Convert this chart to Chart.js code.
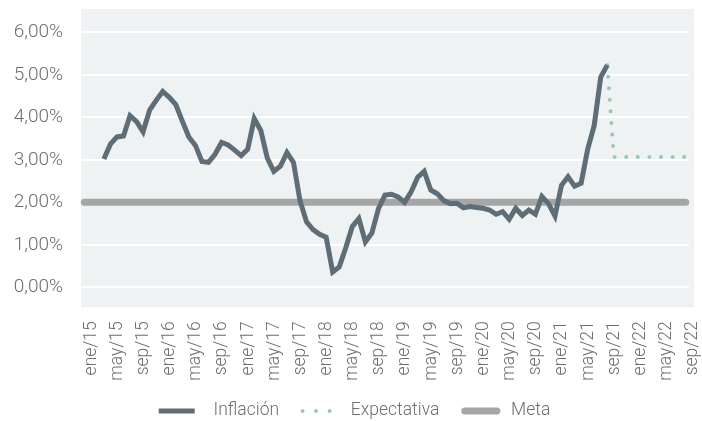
<!DOCTYPE html>
<html>
<head>
<meta charset="utf-8">
<script src="https://cdn.jsdelivr.net/npm/chart.js@4.4.1/dist/chart.umd.min.js"></script>
<style>
html,body{margin:0;padding:0;background:#ffffff;}
#wrap{width:702px;height:421px;position:relative;}
</style>
</head>
<body>
<div id="wrap"><canvas id="c" width="702" height="421"></canvas></div>
<script>
const categories = [
  'ene/15','feb/15','mar/15','abr/15','may/15','jun/15','jul/15','ago/15','sep/15','oct/15','nov/15','dic/15',
  'ene/16','feb/16','mar/16','abr/16','may/16','jun/16','jul/16','ago/16','sep/16','oct/16','nov/16','dic/16',
  'ene/17','feb/17','mar/17','abr/17','may/17','jun/17','jul/17','ago/17','sep/17','oct/17','nov/17','dic/17',
  'ene/18','feb/18','mar/18','abr/18','may/18','jun/18','jul/18','ago/18','sep/18','oct/18','nov/18','dic/18',
  'ene/19','feb/19','mar/19','abr/19','may/19','jun/19','jul/19','ago/19','sep/19','oct/19','nov/19','dic/19',
  'ene/20','feb/20','mar/20','abr/20','may/20','jun/20','jul/20','ago/20','sep/20','oct/20','nov/20','dic/20',
  'ene/21','feb/21','mar/21','abr/21','may/21','jun/21','jul/21','ago/21','sep/21','oct/21','nov/21','dic/21',
  'ene/22','feb/22','mar/22','abr/22','may/22','jun/22','jul/22','ago/22','sep/22'
];

const inflacion = [
  null, null, null, 3.02, 3.37, 3.54, 3.56, 4.04, 3.90, 3.66, 4.17, 4.40,
  4.61, 4.47, 4.30, 3.91, 3.54, 3.34, 2.96, 2.94, 3.13, 3.41, 3.35, 3.23,
  3.10, 3.25, 3.97, 3.69, 3.04, 2.73, 2.85, 3.17, 2.94, 2.04, 1.54, 1.36,
  1.25, 1.18, 0.36, 0.48, 0.93, 1.43, 1.62, 1.07, 1.28, 1.85, 2.17, 2.19,
  2.13, 2.00, 2.25, 2.59, 2.73, 2.29, 2.20, 2.04, 1.97, 1.98, 1.87, 1.90,
  1.88, 1.86, 1.82, 1.72, 1.78, 1.60, 1.86, 1.69, 1.82, 1.72, 2.14, 1.97,
  1.68, 2.40, 2.60, 2.38, 2.45, 3.25, 3.81, 4.95, 5.23, null, null, null,
  null, null, null, null, null, null, null, null, null
];

const expectativa = [
  null, null, null, null, null, null, null, null, null, null, null, null,
  null, null, null, null, null, null, null, null, null, null, null, null,
  null, null, null, null, null, null, null, null, null, null, null, null,
  null, null, null, null, null, null, null, null, null, null, null, null,
  null, null, null, null, null, null, null, null, null, null, null, null,
  null, null, null, null, null, null, null, null, null, null, null, null,
  null, null, null, null, null, null, null, null, 5.23, 3.07, 3.07, 3.07,
  3.07, 3.07, 3.07, 3.07, 3.07, 3.07, 3.07, 3.07, 3.07
];

const meta = [
  2, 2, 2, 2, 2, 2, 2, 2, 2, 2, 2, 2,
  2, 2, 2, 2, 2, 2, 2, 2, 2, 2, 2, 2,
  2, 2, 2, 2, 2, 2, 2, 2, 2, 2, 2, 2,
  2, 2, 2, 2, 2, 2, 2, 2, 2, 2, 2, 2,
  2, 2, 2, 2, 2, 2, 2, 2, 2, 2, 2, 2,
  2, 2, 2, 2, 2, 2, 2, 2, 2, 2, 2, 2,
  2, 2, 2, 2, 2, 2, 2, 2, 2, 2, 2, 2,
  2, 2, 2, 2, 2, 2, 2, 2, 2
];

const seriesNames = ['Inflación', 'Expectativa', 'Meta'];
const yTickValues = [0, 1, 2, 3, 4, 5, 6];
const labelEvery = 4;

const FONT = 'Roboto, "Open Sans", sans-serif';
const TEXT = '#6e6e6e';
const COL_INF = '#5e6d76';
const COL_EXP = '#9cc6b5';
const COL_META = '#a6a6a6';
const PLOT_BG = '#eff2f3';

// legend sample strokes (drawn left to right inside a 46px wide box)
const legendStyles = [
  { lineWidth: 5, lineCap: 'butt',  lineDash: [36, 200], lineDashOffset: 0 },
  { lineWidth: 4, lineCap: 'round', lineDash: [0, 13.5], lineDashOffset: 7 },
  { lineWidth: 7, lineCap: 'round', lineDash: [32, 200], lineDashOffset: 223.5 }
];

const plotBackground = {
  id: 'plotBackground',
  beforeDraw(chart) {
    const a = chart.chartArea, ctx = chart.ctx;
    ctx.save();
    ctx.fillStyle = PLOT_BG;
    ctx.fillRect(a.left, a.top, a.right - a.left + 5, a.bottom - a.top);
    ctx.restore();
  }
};

const layoutTweaks = {
  id: 'layoutTweaks',
  afterLayout(chart) {
    const lg = chart.legend;
    if (lg) {
      lg.top += 8.75; lg.bottom += 8.75;
      lg.left += 10; lg.right += 10;
    }
    // let the rotated x labels extend below the axis box without clipping
    chart.scales.x.bottom = chart.height;
  }
};

new Chart(document.getElementById('c'), {
  type: 'line',
  data: {
    labels: categories,
    datasets: [
      {
        label: seriesNames[0], data: inflacion,
        borderColor: COL_INF, backgroundColor: COL_INF,
        borderWidth: 5, pointRadius: 0, pointHoverRadius: 0,
        tension: 0, borderJoinStyle: 'miter', borderCapStyle: 'butt', spanGaps: false
      },
      {
        label: seriesNames[1], data: expectativa,
        borderColor: COL_EXP, backgroundColor: COL_EXP,
        borderWidth: 4, borderDash: [0, 11.6], borderCapStyle: 'round',
        pointRadius: 0, pointHoverRadius: 0, tension: 0, spanGaps: false
      },
      {
        label: seriesNames[2], data: meta,
        borderColor: COL_META, backgroundColor: COL_META,
        borderWidth: 7, borderCapStyle: 'round',
        pointRadius: 0, pointHoverRadius: 0, tension: 0
      }
    ]
  },
  options: {
    responsive: false,
    animation: false,
    devicePixelRatio: 1,
    layout: { padding: { left: 0, right: 13, top: 9, bottom: 0 } },
    scales: {
      x: {
        offset: true,
        grid: { display: false, drawTicks: false },
        border: { display: false },
        afterFit(s) { s.height = 69.2; s.paddingLeft = 0; s.paddingRight = 0; },
        ticks: {
          autoSkip: false, minRotation: 90, maxRotation: 90,
          padding: 14, labelOffset: 7,
          color: TEXT, font: { family: FONT, size: 17.5, weight: 300 },
          callback(v, i) { return i % labelEvery === 0 ? categories[i] : ''; }
        }
      },
      y: {
        min: -0.47, max: 6.55,
        afterBuildTicks(s) { s.ticks = yTickValues.map(v => ({ value: v })); },
        afterFit(s) { s.width = 81; s.paddingTop = 0; s.paddingBottom = 0; },
        grid: { color: '#ffffff', lineWidth: 2, drawTicks: false },
        border: { display: false },
        ticks: {
          padding: 18, color: TEXT,
          font: { family: FONT, size: 19, weight: 300 },
          callback(v) { return Number(v).toFixed(2).replace('.', ',') + '%'; }
        }
      }
    },
    plugins: {
      tooltip: { enabled: false },
      legend: {
        position: 'bottom', align: 'center',
        labels: {
          usePointStyle: true, pointStyleWidth: 46, padding: 17,
          color: TEXT, font: { family: FONT, size: 17.5, weight: 300 },
          generateLabels(chart) {
            return chart.data.datasets.map((ds, i) => Object.assign({
              text: ds.label, datasetIndex: i, hidden: false,
              pointStyle: 'line', strokeStyle: ds.borderColor, fillStyle: ds.borderColor,
              fontColor: TEXT, rotation: 0
            }, legendStyles[i]));
          }
        }
      }
    }
  },
  plugins: [plotBackground, layoutTweaks]
});
</script>
</body>
</html>
